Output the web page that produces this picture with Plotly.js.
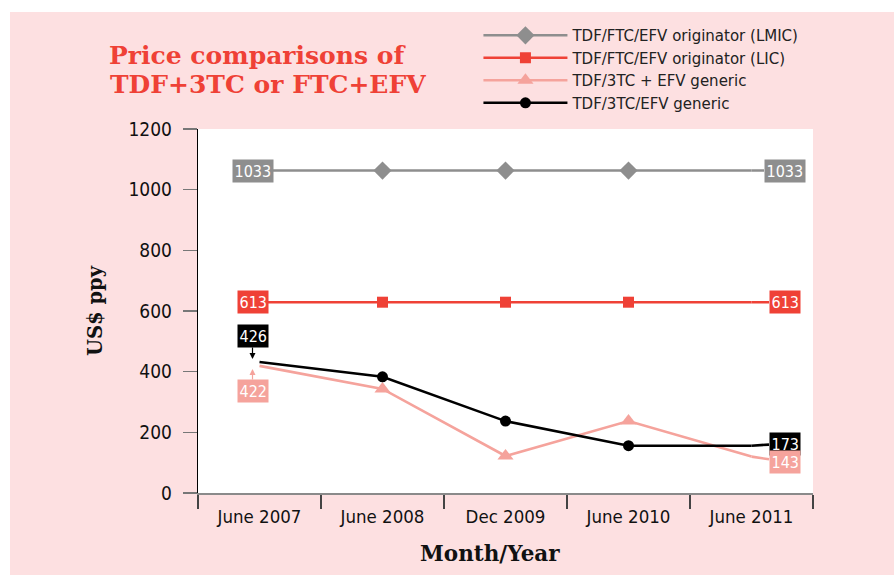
<!DOCTYPE html>
<html>
<head>
<meta charset="utf-8">
<script src="https://cdn.plot.ly/plotly-3.0.1.min.js"></script>
<style>
  html, body { margin: 0; padding: 0; background: #ffffff; }
  #chart { position: absolute; left: 10px; top: 12px; width: 884px; height: 563px; }
</style>
</head>
<body>
<div id="chart"></div>
<script>
// ---- data ----
const categories = ["June 2007", "June 2008", "Dec 2009", "June 2010", "June 2011"];
const seriesNames = [
  "TDF/FTC/EFV originator (LMIC)",
  "TDF/FTC/EFV originator (LIC)",
  "TDF/3TC + EFV generic",
  "TDF/3TC/EFV generic"
];
const originatorLMIC = [1063, 1063, 1063, 1063, 1063];
const originatorLIC = [629, 629, 629, 629, 629];
const genericSeparate = [419, 343, 122, 237, 120];
const genericFixed = [432, 383, 237, 156, 156];
const labelLMIC = ["1033", "1033"];
const labelLIC = ["613", "613"];
const labelSeparate = ["422", "143"];
const labelFixed = ["426", "173"];
const yTicks = [0, 200, 400, 600, 800, 1000, 1200];
const titleLines = ["Price comparisons of", "TDF+3TC or FTC+EFV"];

// ---- styles ----
const cGray = "#8e8e8e", cRed = "#ef4136", cPink = "#f5a39c", cBlack = "#000000";
const sans = "DejaVu Sans Condensed, DejaVu Sans, sans-serif";
const serif = "DejaVu Serif, serif";
const last = categories.length - 1;
// end points are covered by value boxes: markers only at the inner points
const innerPoints = categories.map((c, i) => i).filter(i => i > 0 && i < last);

function tr(name, y, color, symbol, size) {
  return {
    type: "scatter", mode: "lines+markers", name: name,
    x: categories, y: y,
    line: { color: color, width: 2.6 },
    marker: { color: color, symbol: symbol, size: size, opacity: 1, line: { width: 0 } },
    selectedpoints: innerPoints,
    selected: { marker: { opacity: 1 } },
    unselected: { marker: { opacity: 0 } },
    cliponaxis: false
  };
}
const data = [
  tr(seriesNames[0], originatorLMIC, cGray, "diamond", 14),
  tr(seriesNames[1], originatorLIC, cRed, "square", 11),
  tr(seriesNames[2], genericSeparate, cPink, "triangle-up", 14),
  tr(seriesNames[3], genericFixed, cBlack, "circle", 11)
];

const boxFont = { family: sans, size: 16, color: "#ffffff" };
function boxLeft(text, y, bg, extra) {
  return Object.assign({
    x: categories[0], y: y, xref: "x", yref: "y", text: text,
    showarrow: false, xshift: -7, bgcolor: bg, borderpad: 1.5,
    font: boxFont
  }, extra || {});
}
function boxRight(text, y, bg, ay) {
  return {
    x: categories[last], y: y, xref: "x", yref: "y", text: text,
    showarrow: true, arrowhead: 0, arrowwidth: 2.6, arrowcolor: bg,
    ax: 33, ay: ay, bgcolor: bg, borderpad: 1.5,
    font: boxFont
  };
}
const annotations = [
  boxLeft(labelLMIC[0], originatorLMIC[0], cGray),
  boxRight(labelLMIC[1], originatorLMIC[last], cGray, 0),
  boxLeft(labelLIC[0], originatorLIC[0], cRed),
  boxRight(labelLIC[1], originatorLIC[last], cRed, 0),
  boxLeft(labelFixed[0], genericFixed[0], cBlack, {
    showarrow: true, arrowhead: 2, arrowsize: 1, arrowwidth: 1.2, arrowcolor: cBlack,
    ax: 0, ay: -26, standoff: 3
  }),
  boxLeft(labelSeparate[0], genericSeparate[0], cPink, {
    showarrow: true, arrowhead: 2, arrowsize: 1, arrowwidth: 1.2, arrowcolor: cPink,
    ax: 0, ay: 25, standoff: 3
  }),
  boxRight(labelFixed[1], genericFixed[last], cBlack, -2),
  boxRight(labelSeparate[1], genericSeparate[last], cPink, 5),
  {
    text: "<b>" + titleLines[1] + "</b>", xref: "paper", yref: "paper",
    x: 0, xshift: -90, xanchor: "left",
    y: 1, yshift: 45, yanchor: "middle",
    showarrow: false,
    font: { family: serif, size: 25, color: cRed }
  },
  {
    text: "<b>Month/Year</b>", xref: "paper", yref: "paper",
    x: 0.475, y: 0, yshift: -60, xanchor: "center", yanchor: "middle",
    showarrow: false,
    font: { family: serif, size: 21.5, color: "#111111" }
  }
];

const layout = {
  width: 884, height: 563,
  paper_bgcolor: "#fde0e1",
  plot_bgcolor: "#ffffff",
  margin: { l: 188, r: 81, t: 117, b: 82, autoexpand: false },
  showlegend: true,
  title: {
    text: "<b>" + titleLines[0] + "</b>",
    x: 99 / 884, xref: "container", xanchor: "left",
    y: 1 - 43 / 563, yref: "container", yanchor: "middle",
    font: { family: serif, size: 25, color: cRed }
  },
  legend: {
    x: 0.456, xanchor: "left", y: 1.302, yanchor: "top",
    bgcolor: "rgba(0,0,0,0)",
    font: { family: "DejaVu Sans, sans-serif", size: 15, color: "#222222" },
    tracegroupgap: 0, itemwidth: 84
  },
  xaxis: {
    type: "category",
    range: [-0.5, 4.5],
    tickson: "boundaries",
    ticks: "outside", ticklen: 14, tickcolor: "#444444", tickwidth: 1.2,
    ticklabelstandoff: 6,
    showline: true, linecolor: "#8a8a8a", linewidth: 1.5,
    showgrid: false, zeroline: false,
    tickfont: { family: sans, size: 18.5, color: "#111111" }
  },
  yaxis: {
    range: [0, 1200],
    tickvals: yTicks,
    ticks: "outside", ticklen: 14, tickcolor: "#777777", tickwidth: 1.5,
    ticklabelstandoff: 7,
    showline: true, linecolor: "#000000", linewidth: 1.3,
    showgrid: false, zeroline: false,
    tickfont: { family: sans, size: 19, color: "#111111" },
    title: { text: "<b>US$ ppy</b>", standoff: 20,
      font: { family: serif, size: 19.5, color: "#111111" } }
  },
  annotations: annotations
};

Plotly.newPlot("chart", data, layout, { staticPlot: true, displayModeBar: false });
</script>
</body>
</html>
